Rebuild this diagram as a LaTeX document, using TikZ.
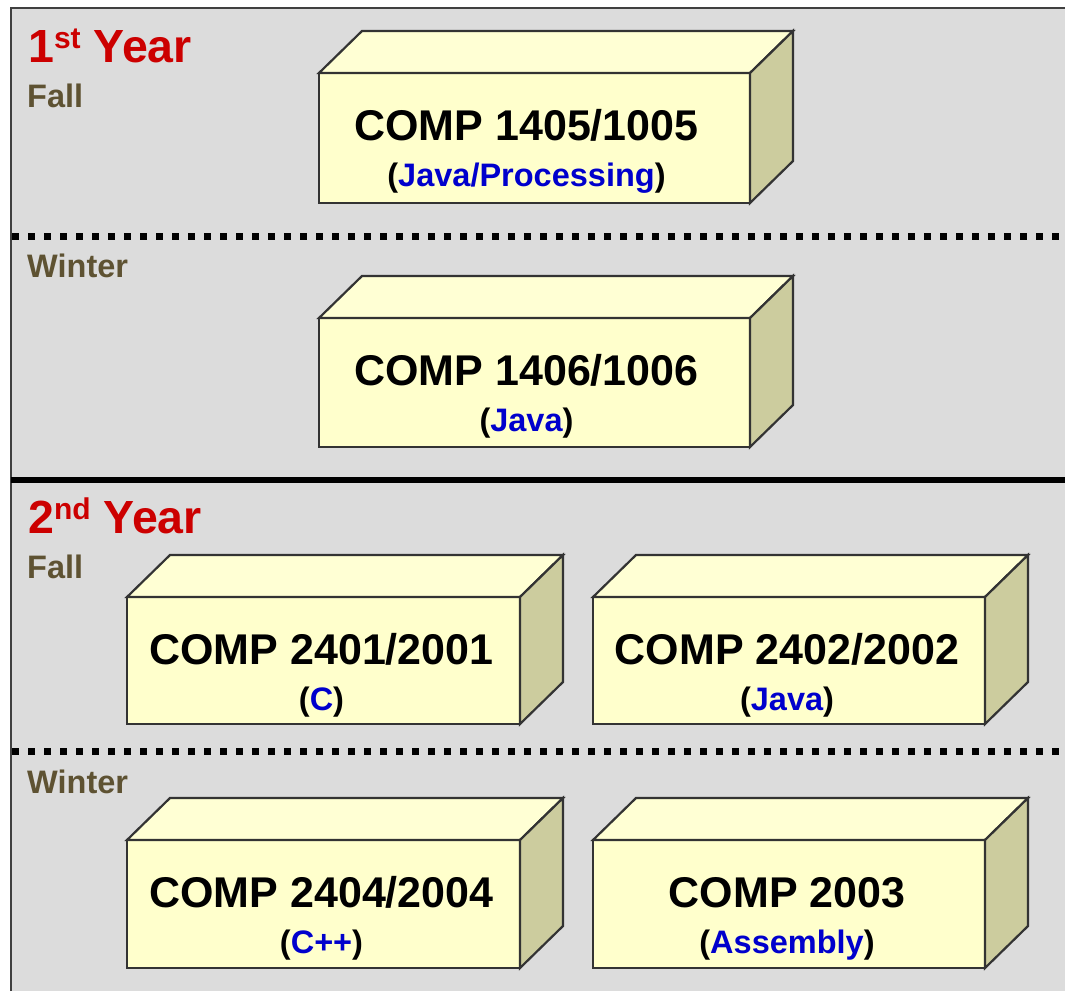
\documentclass[tikz,border=0pt]{standalone}
\usepackage{fontspec}
\setmainfont{Liberation Sans}
\definecolor{bggray}{HTML}{DCDCDC}
\definecolor{frameline}{HTML}{404040}
\definecolor{boxfront}{HTML}{FFFFCC}
\definecolor{boxtop}{HTML}{FFFFD4}
\definecolor{boxside}{HTML}{CCCC9E}
\definecolor{boxline}{HTML}{333333}
\definecolor{yearred}{HTML}{CC0000}
\definecolor{termcol}{HTML}{5E5232}
\definecolor{langblue}{HTML}{0000CC}
\tikzset{
  front/.style={draw=boxline, fill=boxfront, line width=2.2pt, inner sep=0pt, outer sep=0pt, anchor=north west, line join=miter},
  face/.style={draw=boxline, line width=2.2pt, line join=miter},
  titletext/.style={anchor=base, inner sep=0pt, font=\fontsize{43}{50}\selectfont\bfseries},
  langtext/.style={anchor=base, inner sep=0pt, font=\fontsize{32.5}{38}\selectfont\bfseries},
  yeartext/.style={anchor=base west, inner sep=0pt, text=yearred, font=\fontsize{46.5}{52}\selectfont\bfseries},
  termtext/.style={anchor=base west, inner sep=0pt, text=termcol, font=\fontsize{32.5}{38}\selectfont\bfseries},
  dotline/.style={line width=7pt, dash pattern=on 7pt off 9pt},
}
\newcommand\coursebox[8]{%
  \node[front, minimum width=#4pt, minimum height=#5pt] (#1) at (#2,#3) {};
  \filldraw[face, fill=boxtop] (#1.north west) -- ++(43,-42) -- ++(#4,0) -- (#1.north east) -- cycle;
  \filldraw[face, fill=boxside] (#1.north east) -- ++(43,-42) -- ++(0,#5) -- (#1.south east) -- cycle;
  \path (#1.north) ++(#8,67) node[titletext] (#1-title) {#6};
  \path (#1.north) ++(#8,113) node[langtext] (#1-lang) {(\textcolor{langblue}{#7})};
}
\begin{document}
\begin{tikzpicture}[x=1pt,y=-1pt]
\useasboundingbox (0,0) rectangle (1065,991);
\fill[white] (0,0) rectangle (1065,991);
\fill[bggray] (11,8) rectangle (1065,991);
\draw[frameline, line width=2.5pt] (11,991) -- (11,8) -- (1065,8);

% dividers
\coordinate (d1a) at (12,236); \coordinate (d1b) at (1065,236);
\coordinate (d2a) at (12,751); \coordinate (d2b) at (1065,751);
\coordinate (ya) at (11,480); \coordinate (yb) at (1065,480);
\draw[dotline] (d1a) -- (d1b);
\draw[dotline] (d2a) -- (d2b);
\draw[line width=6.5pt] (ya) -- (yb);

% labels
\node[yeartext] (year1) at (28,62) {1\raisebox{14pt}{\fontsize{30}{31}\selectfont st} Year};
\node[termtext] (fall1) at (27,107) {Fall};
\node[termtext] (winter1) at (27,277) {Winter};
\node[yeartext] (year2) at (28,533) {2\raisebox{14pt}{\fontsize{30}{31}\selectfont nd} Year};
\node[termtext] (fall2) at (27,578) {Fall};
\node[termtext] (winter2) at (27,793) {Winter};

% course boxes
\coursebox{c1405}{319}{73}{431}{130}{COMP 1405/1005}{Java/Processing}{-8}
\coursebox{c1406}{319}{318}{431}{129}{COMP 1406/1006}{Java}{-8}
\coursebox{c2401}{127}{597}{393}{127}{COMP 2401/2001}{C}{-2}
\coursebox{c2402}{593}{597}{392}{127}{COMP 2402/2002}{Java}{-2}
\coursebox{c2404}{127}{840}{393}{128}{COMP 2404/2004}{C++}{-2}
\coursebox{c2003}{593}{840}{392}{128}{COMP 2003}{Assembly}{-2}
\end{tikzpicture}
\end{document}
